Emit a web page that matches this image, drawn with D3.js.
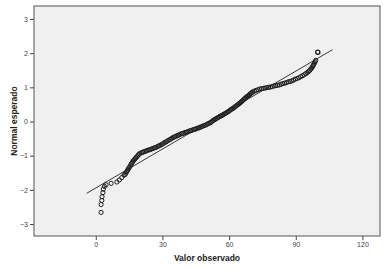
<!DOCTYPE html>
<html><head><meta charset="utf-8">
<script src="https://cdn.jsdelivr.net/npm/d3@7"></script>
<style>html,body{margin:0;padding:0;background:#fff;}svg{display:block;}</style>
</head><body>
<svg id="chart" width="387" height="269"></svg>
<script>
// Observed values (Valor observado) and expected normal values (Normal esperado)
const observed = [
 2.4,2.4,2.7,2.8,3.2,3.4,3.9,4.6,6.9,9.5,10.6,11.7,12.7,
 13.2,13.5,13.9,14.3,14.6,15.0,15.4,15.8,16.1,16.5,16.9,17.3,17.7,18.1,18.5,18.9,19.3,19.7,
 20.4,21.0,21.6,22.2,22.8,23.4,24.0,24.6,25.2,25.8,26.4,27.0,27.6,28.2,28.8,
 29.4,30.0,30.6,31.2,31.8,32.4,33.0,33.6,34.2,34.8,35.4,36.0,36.6,37.2,37.8,38.4,
 39.0,39.6,40.2,40.8,41.4,42.0,42.6,43.2,43.8,44.4,45.0,45.6,46.2,46.8,
 47.4,48.0,48.6,49.2,49.8,50.4,51.0,
 51.6,52.1,52.6,53.1,53.6,54.1,54.6,55.1,55.6,56.1,56.6,57.1,57.6,58.1,58.6,59.1,59.6,60.1,60.6,61.1,
 61.6,62.1,62.6,63.1,63.6,64.1,64.6,65.1,65.5,65.9,66.3,66.7,67.1,67.5,67.9,68.3,68.7,69.1,69.5,69.9,70.3,70.7,
 71.4,72.2,73.0,73.8,74.6,75.4,76.2,77.0,77.8,78.6,79.4,80.2,81.0,81.8,82.6,83.4,84.2,85.0,85.8,86.6,
 87.4,88.2,89.0,89.8,90.6,91.4,92.2,93.0,93.8,94.5,95.1,95.7,96.2,96.7,97.1,97.5,97.8,98.1,98.4,98.7,99.0,
 99.9
];
const expectedNormal = [
 -2.66,-2.43,-2.31,-2.20,-2.08,-1.98,-1.90,-1.85,-1.81,-1.77,-1.71,-1.64,-1.57,
 -1.55,-1.51,-1.47,-1.43,-1.39,-1.35,-1.31,-1.27,-1.23,-1.19,-1.15,-1.12,-1.09,-1.06,-1.03,-1.00,-0.97,-0.94,
 -0.92,-0.90,-0.89,-0.87,-0.86,-0.84,-0.83,-0.82,-0.80,-0.79,-0.77,-0.76,-0.74,-0.72,-0.70,
 -0.68,-0.66,-0.63,-0.61,-0.59,-0.56,-0.54,-0.52,-0.49,-0.47,-0.45,-0.43,-0.42,-0.40,-0.38,-0.36,
 -0.35,-0.34,-0.32,-0.31,-0.30,-0.28,-0.27,-0.26,-0.24,-0.23,-0.22,-0.20,-0.19,-0.17,
 -0.16,-0.14,-0.12,-0.11,-0.09,-0.07,-0.05,
 -0.03,-0.01,0.02,0.04,0.06,0.08,0.10,0.12,0.14,0.16,0.17,0.19,0.21,0.23,0.25,0.27,0.29,0.31,0.34,0.36,
 0.38,0.40,0.43,0.45,0.48,0.50,0.53,0.55,0.58,0.60,0.63,0.65,0.67,0.70,0.72,0.74,0.76,0.78,0.81,0.83,0.85,0.87,
 0.89,0.91,0.93,0.95,0.96,0.97,0.98,0.99,1.00,1.01,1.02,1.04,1.05,1.06,1.07,1.09,1.11,1.12,1.14,1.16,
 1.17,1.19,1.21,1.24,1.26,1.28,1.31,1.34,1.37,1.40,1.43,1.46,1.49,1.53,1.56,1.60,1.64,1.67,1.71,1.75,1.79,
 2.03
];
// Reference line endpoints (observed value, expected normal)
const refLineX = [-4.05, 106.5];
const refLineY = [-2.10, 2.10];

const xTicks = [0, 30, 60, 90, 120];
const yTicks = [-3, -2, -1, 0, 1, 2, 3];
const xTitle = "Valor observado";
const yTitle = "Normal esperado";

const svg = d3.select("#chart");
const L = 34, R = 380, T = 6, B = 236;
const x = d3.scaleLinear().domain([-27.8, 127.9]).range([L, R]);
const y = d3.scaleLinear().domain([-3.35, 3.38]).range([B, T]);

svg.append("rect").attr("x", L).attr("y", T).attr("width", R - L).attr("height", B - T)
  .attr("fill", "#f0f0f0");

const xAxis = svg.append("g").attr("transform", `translate(0,${B})`)
  .call(d3.axisBottom(x).tickValues(xTicks).tickFormat(d3.format("d")).tickSize(4).tickPadding(2));
const yAxis = svg.append("g").attr("transform", `translate(${L},0)`)
  .call(d3.axisLeft(y).tickValues(yTicks).tickFormat(d3.format("d")).tickSize(4).tickPadding(2));
[xAxis, yAxis].forEach(g => {
  g.select(".domain").remove();
  g.selectAll("line").attr("stroke", "#444");
  g.selectAll("text").attr("font-family", "Liberation Sans, Arial, sans-serif")
    .attr("font-size", "7px").attr("fill", "#444");
});

svg.append("rect").attr("x", L).attr("y", T).attr("width", R - L).attr("height", B - T)
  .attr("fill", "none").attr("stroke", "#555").attr("stroke-width", 1);

const pts = observed.map((v, i) => [v, expectedNormal[i]]);

svg.append("line")
  .attr("x1", x(refLineX[0])).attr("y1", y(refLineY[0]))
  .attr("x2", x(refLineX[1])).attr("y2", y(refLineY[1]))
  .attr("stroke", "#222").attr("stroke-width", 0.9);

svg.append("g").selectAll("circle").data(pts).join("circle")
  .attr("cx", d => x(d[0])).attr("cy", d => y(d[1])).attr("r", 2.1)
  .attr("fill", "none").attr("stroke", "#1e1e1e")
  .attr("stroke-width", (d, i) => i === pts.length - 1 ? 1.3 : 1.0);

svg.append("text").attr("x", (L + R) / 2).attr("y", 261).attr("text-anchor", "middle")
  .attr("font-family", "Liberation Sans, Arial, sans-serif").attr("font-weight", "bold")
  .attr("font-size", "8.5px").attr("fill", "#222").text(xTitle);
svg.append("text").attr("transform", `translate(17,${(T + B) / 2}) rotate(-90)`)
  .attr("text-anchor", "middle")
  .attr("font-family", "Liberation Sans, Arial, sans-serif").attr("font-weight", "bold")
  .attr("font-size", "8.5px").attr("fill", "#222").text(yTitle);
</script>
</body></html>
